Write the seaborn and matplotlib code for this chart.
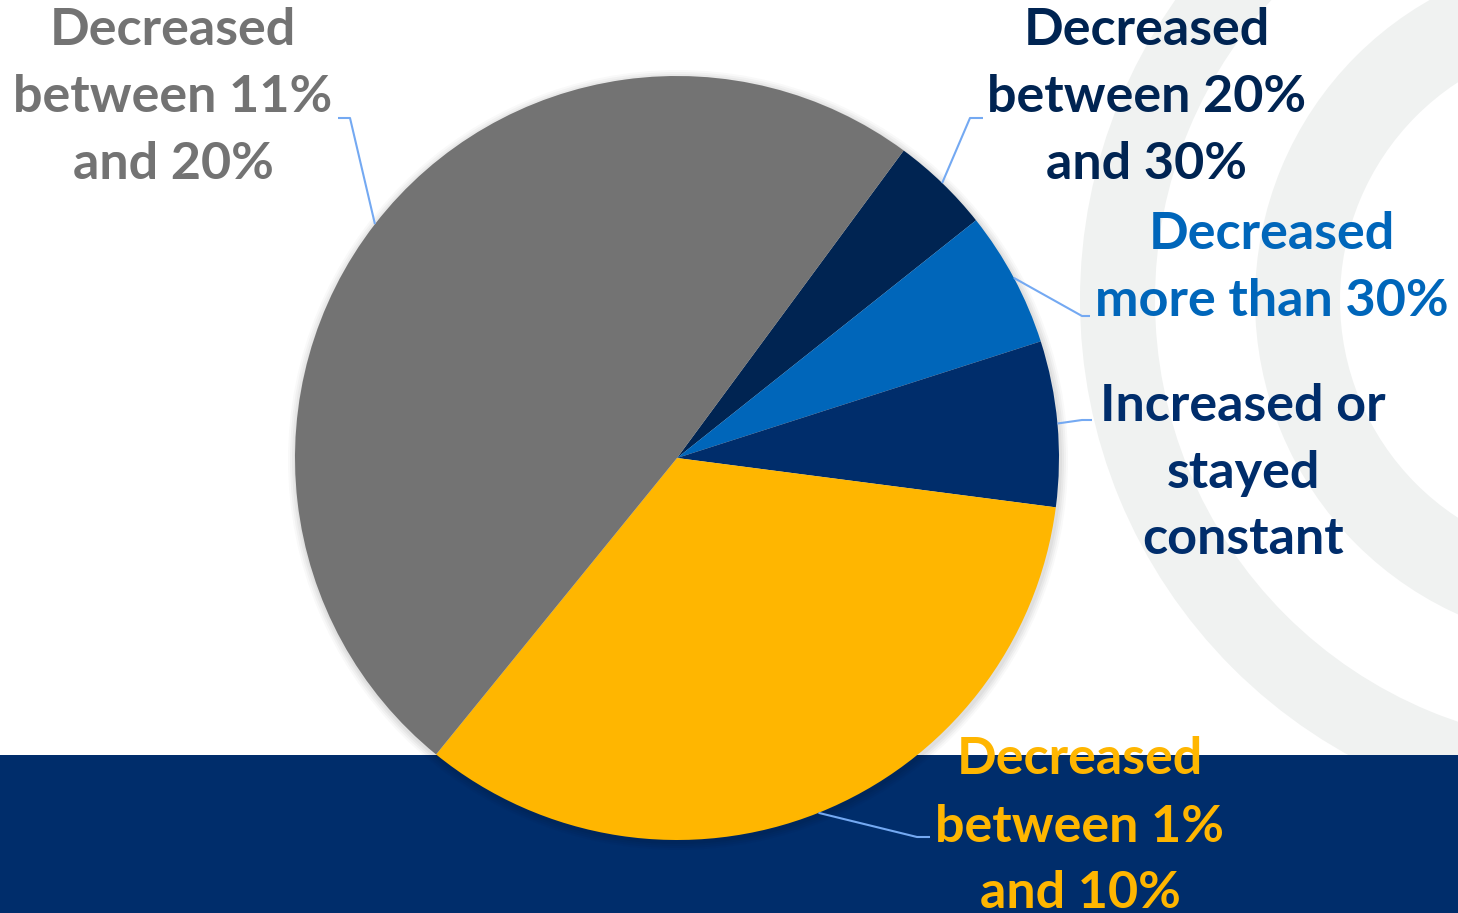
import matplotlib
matplotlib.use("Agg")
import numpy as np
import matplotlib.pyplot as plt
import seaborn as sns
from matplotlib.patches import Wedge, Rectangle, Circle

# ---- data ----
categories = ["Decreased between 20% and 30%",
              "Decreased more than 30%",
              "Increased or stayed constant",
              "Decreased between 1% and 10%",
              "Decreased between 11% and 20%"]
values = [4.2, 5.75, 7.0, 33.8, 49.25]
label_lines = [["Decreased", "between 20%", "and 30%"],
               ["Decreased", "more than 30%"],
               ["Increased or", "stayed", "constant"],
               ["Decreased", "between 1%", "and 10%"],
               ["Decreased", "between 11%", "and 20%"]]
colors = ["#002452", "#0066BA", "#002D6B", "#FFB600", "#737373"]

# ---- layout (pixel space, y up) ----
W, H = 1458, 913
cx, cy, R = 677, H - 458, 382
label_pos = [(1147, H - 30), (1272, H - 234), (1243, H - 406), (1080, H - 760), (173, H - 30)]
elbow = [(970, H - 118), (1082, H - 316), (1082, H - 420), (917, H - 837), (350, H - 118)]
hend = [(983, H - 118), (1090, H - 316), (1092, H - 420), (930, H - 837), (338, H - 118)]
line_gap = 67

sns.set_theme(style="white")
plt.rcParams["font.family"] = ["Lato", "DejaVu Sans"]

fig = plt.figure(figsize=(W / 100, H / 100), dpi=100)
ax = fig.add_axes([0, 0, 1, 1])

# watermark rings
ax.add_patch(Wedge((1600, H - 300), 520, 0, 360, width=75, color="#f0f2f1", zorder=0, lw=0))
ax.add_patch(Wedge((1600, H - 300), 345, 0, 360, width=85, color="#f0f2f1", zorder=0, lw=0))
# bottom band
ax.add_patch(Rectangle((0, 0), W, H - 755, color="#002D6B", zorder=1, lw=0))

# shadow
for i, a in enumerate([0.035, 0.035, 0.03, 0.025]):
    ax.add_patch(Circle((cx + 1, cy - 2), R + 2 + 2 * i, color="black", alpha=a, lw=0, zorder=2))

wedges, _ = ax.pie(values, colors=colors, startangle=53.6, counterclock=False,
                   center=(cx, cy), radius=R,
                   wedgeprops=dict(linewidth=0, zorder=3))

for w, col, lines, lp, el, he in zip(wedges, colors, label_lines, label_pos, elbow, hend):
    mid = np.deg2rad((w.theta1 + w.theta2) / 2)
    sx, sy = cx + R * np.cos(mid), cy + R * np.sin(mid)
    ax.plot([sx, el[0], he[0]], [sy, el[1], he[1]], color="#74a9f2", lw=1.5, zorder=4,
            solid_capstyle="butt")
    for k, t in enumerate(lines):
        ax.text(lp[0], lp[1] - k * line_gap, t, ha="center", va="center", color=col,
                fontsize=37.5, fontweight="bold", zorder=5)

ax.set_xlim(0, W)
ax.set_ylim(0, H)
ax.set_aspect("equal")
ax.axis("off")
fig.savefig("out.png", dpi=100, facecolor="white")
